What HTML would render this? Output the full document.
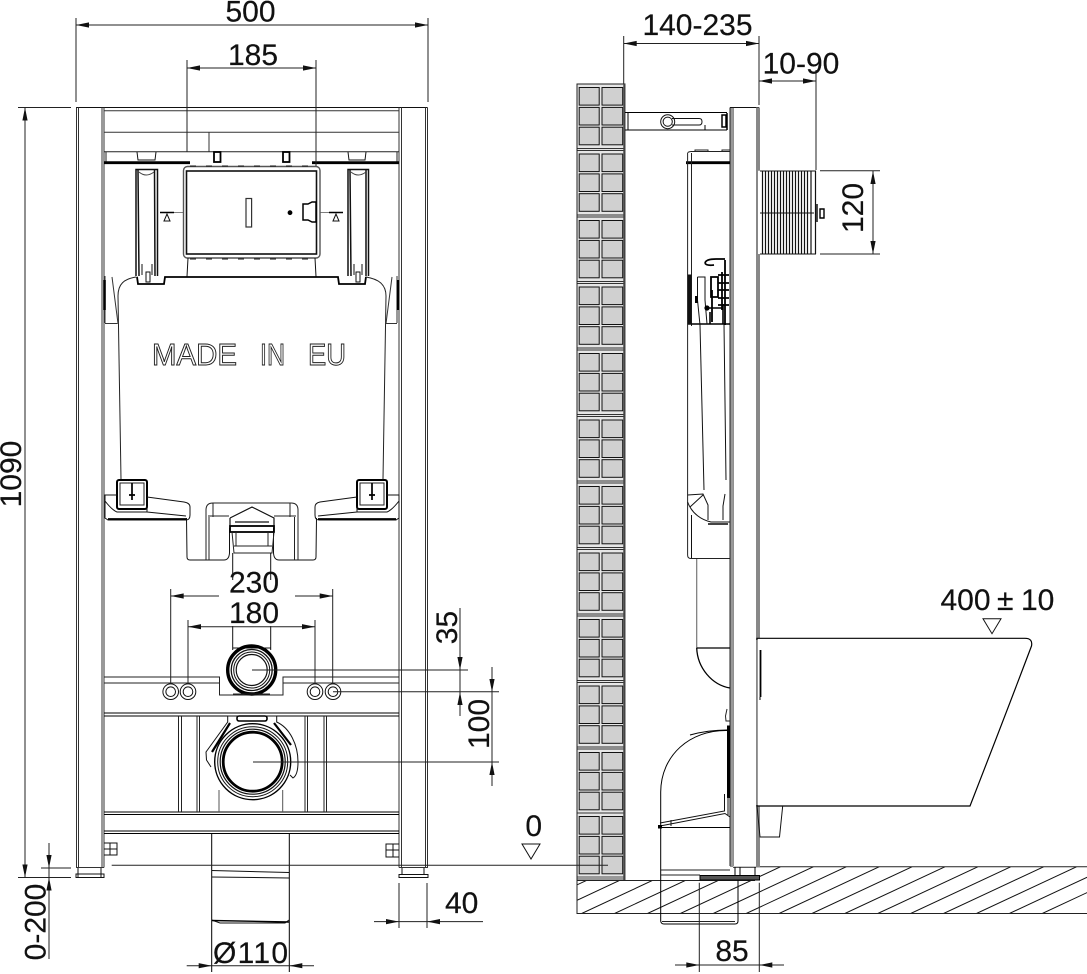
<!DOCTYPE html>
<html><head><meta charset="utf-8"><style>
html,body{margin:0;padding:0;background:#fff}
svg{display:block}
text{font-family:"Liberation Sans",sans-serif;font-size:30px;fill:#111;stroke:#111;stroke-width:.2}
</style></head><body>
<svg width="1087" height="974" viewBox="0 0 1087 974" xmlns="http://www.w3.org/2000/svg">
<defs>
<polygon id="a" points="0,0 -13,-2.6 -13,2.6" fill="#111"/>
<g id="m">
<rect x="577" y="0" width="48" height="66.5" fill="#e6e6e6"/>
<rect x="579.2" y="3.5" width="20" height="17.6" fill="#d0d0d0" stroke="#111"/>
<rect x="602" y="3.5" width="20.7" height="17.6" fill="#d0d0d0" stroke="#111"/>
<rect x="579.2" y="23.4" width="20" height="17.6" fill="#d0d0d0" stroke="#111"/>
<rect x="602" y="23.4" width="20.7" height="17.6" fill="#d0d0d0" stroke="#111"/>
<rect x="579.2" y="43.2" width="20" height="17.6" fill="#d0d0d0" stroke="#111"/>
<rect x="602" y="43.2" width="20.7" height="17.6" fill="#d0d0d0" stroke="#111"/>
<path d="M577,0H625M577,64.5H625" stroke="#333" fill="none"/>
</g>
<clipPath id="fl"><polygon points="577,880.5 760,880.5 760,866.7 1087,866.7 1087,913.5 577,913.5"/></clipPath>
</defs>
<rect width="1087" height="974" fill="#fff"/>

<!-- FRONT: frame -->
<g fill="none" stroke="#111" stroke-width="1">
<path d="M76,107.5H427.5"/>
<path d="M76.5,107.5V867.5M78.5,107.5V867.5M102,107.5V867.5M104,107.5V867.5M76,867.5H104" stroke="#333"/>
<path d="M399,107.5V867.5M401.5,107.5V867.5M425.5,107.5V867.5M427.5,107.5V867.5M399,867.5H428" stroke="#333"/>
<path d="M104,110.7H399M104,132.3H399M209,132.3V151.5" stroke="#333"/>
<path d="M104,151.7H399M106,151.7V162M397,151.7V162" stroke="#222"/>
<path d="M104,162.7H190M312,162.7H399" stroke="#000" stroke-width="2.8"/>
<path d="M137,152L138,160H155L156,152M348,152L349,160H365L366,152" stroke="#111"/>
<rect x="214" y="152" width="6.5" height="10" stroke="#000" stroke-width="1.8"/>
<rect x="283" y="152" width="6.5" height="10" stroke="#000" stroke-width="1.8"/>
<!-- window -->
<rect x="183.5" y="166.5" width="136.5" height="91.5" rx="4" stroke="#555" stroke-width="1.4"/>
<rect x="186.5" y="171" width="130" height="83" stroke="#111" stroke-width="1.6"/>
<rect x="246" y="198.5" width="5.6" height="28.5" stroke="#333" stroke-width="1.2"/>
<path d="M190,166H315M190,259H315" stroke="#111" stroke-dasharray="6 10"/>
<path d="M188,258L187,276.5M315,258L316,276.5"/>
<path d="M137,276.7L138,284H164L165,277H338L339,284H365L366,276.7" stroke="#000" stroke-width="1.8"/>
<path d="M303,204H308L312,202H316V222H312L308,220H303Z" stroke="#000" stroke-width="1.5"/>
<path d="M183,212.5H160M320,212.5H329" stroke="#555" stroke-width=".7"/>
<!-- columns -->
<path d="M136,276V169.5H157.5V276M139,276L138,170M155,276L154.5,170M348,276V169.5H368.5V276M351,276L350,170M366,276L366,170" stroke="#111" stroke-width="1.5"/>
<path d="M139,172Q146,178 154,172M351,172Q358,178 366,172" stroke="#444"/>
<path d="M142,264V275M152,264V275M146,272H150V282H146ZM354,264V275M362,264V275M356,272H360V282H356Z" stroke="#111"/>
<path d="M160,212.5H174M329,212.5H343" stroke="#000" stroke-width="1.5"/>
<path d="M167,214L164,221H170ZM336,214L333,221H339Z"/>
<!-- tank -->
<path d="M136,277C124,279 118,284 118,296L121,479M366,277C378,279 386,284 386,296L383,479" stroke="#222"/>
<path d="M105,323.5H117.5M112,277L118,323.5M386,323.5H397M392,277L386,323.5M105,276V323M397,276V323" stroke="#333"/>
<path d="M104.5,280V310M398,280V310" stroke="#000" stroke-width="2.6"/>
<!-- hooks -->
<rect x="117" y="480" width="30" height="29" rx="2" stroke="#000" stroke-width="2"/>
<rect x="120" y="483" width="24" height="22" stroke="#222"/>
<path d="M132,483V500M129,495H135" stroke="#000" stroke-width="1.7"/>
<rect x="357" y="480" width="30" height="29" rx="2" stroke="#000" stroke-width="2"/>
<rect x="360" y="483" width="24" height="22" stroke="#222"/>
<path d="M372,483V500M369,495H375" stroke="#000" stroke-width="1.7"/>
<!-- wings -->
<path d="M117,495L105,495V518L108,520H186Q190,520 190,515V507Q190,503 184,502L147,497M105,501Q112,510 117,512H147L186,516M147,506V512" stroke="#111"/>
<path d="M387,495L399,495V518L396,520H319Q315,520 315,515V507Q315,503 320,502L357,497M399,501Q392,510 387,512H357L318,516M357,506V512" stroke="#111"/>
<path d="M108,519H186M318,519H396" stroke="#000" stroke-width="1.8"/>
<!-- bottom piece -->
<path d="M186.5,518L187,557Q187,560 190,560H224Q229,560 229.5,553V528M316.5,518L316,557Q316,560 313,560H279Q274,560 273.5,553V528" stroke="#111"/>
<path d="M206,560L206,510Q206,503 213,503H291Q298,503 298,510V560M209,517V560M294.5,517V560M208,516H229M274,516H296M213,503V517M290,503V517" stroke="#222"/>
<path d="M230,518L252,507L274,518V530M230,518V530M235,522H269" stroke="#111" stroke-width="1.2"/>
<rect x="230" y="526" width="44" height="6" stroke="#000" stroke-width="1.8"/>
<path d="M232,532L234,553H272L274,532M234,546H272M236,532V546M268,532V546" stroke="#222"/>
<path d="M232.7,553V580M270.7,553V580" stroke="#111"/>
<!-- lower bar -->
<path d="M104,677H219.5V695H283V677H399M104,683H219.5M283,683H399" stroke="#222"/>
<path d="M104,713H399M104,716H399" stroke="#000"/>
<path d="M104,812H399M104,814.5H399M104,831H399M104,833.5H399" stroke="#000"/>
<path d="M178.5,716V812M181.5,716V812M197,716V812M199.5,716V812M305,716V812M307.5,716V812M324,716V812M326.5,716V812" stroke="#222"/>
<path d="M219,790V812M282.7,790V812" stroke="#555"/>
<!-- upper pipe -->
<path d="M232.7,626V650M270.7,626V650M232.7,648H270.7" stroke="#111"/>
<circle cx="251.7" cy="670" r="24" stroke="#000" stroke-width="3.4"/>
<circle cx="251.7" cy="670" r="20.5" stroke="#111" stroke-width="1.3"/>
<circle cx="251.7" cy="670" r="18"/>
<circle cx="251.7" cy="670" r="15.5" stroke="#111" stroke-width="1.2"/>
<path d="M233,694H270" stroke="#222"/>
<!-- rings -->
<circle cx="170.7" cy="691.7" r="7.8"/><circle cx="170.7" cy="691.7" r="4.8"/>
<circle cx="188" cy="691.7" r="7.8"/><circle cx="188" cy="691.7" r="4.8"/>
<circle cx="315" cy="691.7" r="7.8"/><circle cx="315" cy="691.7" r="4.8"/>
<circle cx="333" cy="691.7" r="7.8"/><circle cx="333" cy="691.7" r="4.8"/>
<!-- big pipe -->
<path d="M227.7,716V722L206,752L206.5,760L211,767M276.7,716V722C290,728 298,745 298,762Q298,775 293,778L290,775M276.7,716H227.7" stroke="#111" fill="#fff"/>
<circle cx="252.7" cy="761.7" r="38" fill="#fff" stroke="#000" stroke-width="1.4"/>
<circle cx="252.7" cy="761.7" r="35" stroke="#111"/>
<circle cx="252.7" cy="761.7" r="32.5" stroke="#111" stroke-width="1.2"/>
<circle cx="252.7" cy="761.7" r="29.5" stroke="#000" stroke-width="2.8"/>
<rect x="237" y="716" width="30" height="5" rx="2" stroke="#000" stroke-width="1.6"/>
<path d="M230,723L212,752M274,723L291,745" stroke="#000" stroke-width="2.2"/>
<!-- pipe below -->
<path d="M211.7,833V972M289.3,833V972" stroke="#000"/>
<path d="M211.7,870.5L289,872.5M211.7,877L289,878M211.7,920L220,923H285L289,920" stroke="#111"/>
<path d="M211.7,920.5L289,922" stroke="#000" stroke-width="1.4"/>
<!-- bolts/feet -->
<path d="M104,843H117V855H104M110,843V855M104,849H117M399,844H386V857H399M393,844V857M386,850H399" stroke="#111"/>
<path d="M78,868V877M101,868V877M76,874H104V877.5H76ZM402,868V875M424,868V875M399,874.5H428V877.5H399Z" stroke="#111"/>
</g>
<circle cx="290" cy="212.7" r="2.4" fill="#000"/>
<text x="152" y="365" style="font-size:31px;fill:#fff;stroke:#222;stroke-width:1" textLength="85" lengthAdjust="spacingAndGlyphs">MADE</text>
<text x="260" y="365" style="font-size:31px;fill:#fff;stroke:#222;stroke-width:1" textLength="25" lengthAdjust="spacingAndGlyphs">IN</text>
<text x="308" y="365" style="font-size:31px;fill:#fff;stroke:#222;stroke-width:1" textLength="38" lengthAdjust="spacingAndGlyphs">EU</text>

<!-- SIDE: wall -->
<rect x="577" y="84" width="48" height="796.5" fill="#e6e6e6" stroke="#222"/>
<use href="#m" transform="translate(0,84)"/><use href="#m" transform="translate(0,150.5)"/>
<use href="#m" transform="translate(0,217)"/><use href="#m" transform="translate(0,283.5)"/>
<use href="#m" transform="translate(0,350)"/><use href="#m" transform="translate(0,416.5)"/>
<use href="#m" transform="translate(0,483)"/><use href="#m" transform="translate(0,549.5)"/>
<use href="#m" transform="translate(0,616)"/><use href="#m" transform="translate(0,682.5)"/>
<use href="#m" transform="translate(0,749)"/><use href="#m" transform="translate(0,813)"/>
<rect x="577" y="876" width="48" height="4.5" fill="#999"/>
<rect x="577" y="84" width="48" height="796.5" fill="none" stroke="#222"/>
<rect x="623.3" y="84" width="2.2" height="796.5" fill="#444"/>

<!-- floor -->
<g clip-path="url(#fl)" stroke="#111" stroke-width="1" fill="none">
<path d="M482.7,913.5l100,-46.7M515.7,913.5l100,-46.7M548.7,913.5l100,-46.7M581.7,913.5l100,-46.7M614.6,913.5l100,-46.7M647.5,913.5l100,-46.7M680.4,913.5l100,-46.7M713.3,913.5l100,-46.7M746.2,913.5l100,-46.7M779.1,913.5l100,-46.7M812,913.5l100,-46.7M844.9,913.5l100,-46.7M877.8,913.5l100,-46.7M910.7,913.5l100,-46.7M943.6,913.5l100,-46.7M976.5,913.5l100,-46.7M1009.4,913.5l100,-46.7M1042.3,913.5l100,-46.7"/>
</g>
<path d="M577,880.5V913.5H1087M577,880.5H755M760,866.7H1087" fill="none" stroke="#222" stroke-width="1"/>

<!-- side: frame -->
<g fill="none" stroke="#111" stroke-width="1">
<path d="M730,107.5H759"/>
<rect x="756" y="107.5" width="4" height="760" fill="#888" stroke="none"/>
<path d="M730,107.5V866M733,107.5V866M730,866H733M733,867.3H756" stroke="#222"/>
<rect x="730.5" y="108" width="2.5" height="758" fill="#999" stroke="none"/>
<!-- bracket -->
<path d="M625,112.5H727M625,130H727M628,112.5V130M705,125V130" stroke="#000"/>
<circle cx="667.7" cy="121.7" r="7" stroke="#111"/><circle cx="667.7" cy="121.7" r="4.6" stroke="#111"/>
<path d="M672,118.5H699Q702,118.5 702,121.7Q702,125 699,125H672" stroke="#111"/>
<path d="M722,115V127H726V115ZM727,113V130" stroke="#000" stroke-width="1.5"/>
<!-- cistern -->
<path d="M691,151.5H730M695,151V150H708V151M722,151V150H730" stroke="#222"/>
<path d="M686,162.7H730" stroke="#000" stroke-width="2.8"/>
<path d="M688,153Q687.5,152 691,151.5M687.6,153V555Q687.6,558.5 691,558.5H730M691.5,153V326" stroke="#222"/>
<path d="M688,324H730" stroke="#000" stroke-width="1.4"/>
<path d="M688,275H691V324H688Z" fill="#111" stroke="#111"/>
<path d="M697.5,277V300L700,325L704,490M697.5,277H705V300L707,324M724,324L726,480" stroke="#111"/>
<path d="M705,263Q706,259 716,259H725M705,263Q706,266 714,265M712,290V322M725,260V325M722,272V310M718,275H729M718,283H729M718,290H729M718,298H729M718,305H729M711,277H718V297H711Z" stroke="#000" stroke-width="1.8"/>
<circle cx="707" cy="308" r="2.6" fill="#000" stroke="none"/>
<path d="M695,296H698V303H695Z" fill="#000" stroke="none"/>
<path d="M705,308H722M710,312V324M723,304V324" stroke="#000" stroke-width="1.6"/>
<!-- cistern lower curve -->
<path d="M687.6,495L703,494L708,505V520M687.6,502C692,514 702,520 711,522H730M690,507L703,495M725,494L723,506V520M691.5,515V558" stroke="#111"/>
<path d="M708,524H728" stroke="#444" stroke-width="2"/>
<!-- pipe upper -->
<path d="M696.7,559V648" stroke="#777" stroke-width="1.2"/>
<path d="M696.7,648H730M696.7,648C697.5,668 712,685 730,688" stroke="#000" stroke-width="1.3"/>
<path d="M727,709L725.5,716L726,721H730" stroke="#222"/>
<!-- bend -->
<path d="M727,730.5C690,730 661,755 660.7,792V826" stroke="#000"/>
<path d="M690,735Q708,730 727,730" stroke="#000"/>
<path d="M728.5,725.5V798" stroke="#000" stroke-width="3"/>
<path d="M724.5,794V811L660,823M660,826L725,813.5L730,817M671,820V826M728,797V815" stroke="#111"/>
<path d="M660,827.5H730" stroke="#000"/>
<rect x="658.5" y="825.5" width="3" height="2.5" fill="#000" stroke="#000"/>
<path d="M660.7,827V921Q661,924 664,924H735Q738,924 738,921V880" stroke="#000"/>
<path d="M661,870H730M661,875H700M662,921.5H735" stroke="#222"/>
<!-- base plate -->
<path d="M700,875.5H759.5V880H700Z" fill="#555" stroke="#000"/>
<path d="M735,867V875M740,867V875M755,867V875" stroke="#000"/>
<!-- toilet -->
<path d="M757,638.3H1025Q1033,638.3 1031.5,646Q1005,716 970,806H757Z" fill="#fff" stroke="#000" stroke-width="1.2"/>
<path d="M757,806L760,837H779.5L782.7,806" stroke="#111"/>
<path d="M757,638.3V806" stroke="#000"/>
<path d="M760.5,650V697" stroke="#000" stroke-width="1.8"/>
<path d="M760,697V700" stroke="#000"/>
<rect x="756" y="640" width="1.4" height="165" fill="#888" stroke="none"/>
</g>
<rect x="756" y="840" width="4" height="27" fill="#888"/>

<!-- DIMENSIONS -->
<g fill="none" stroke="#222" stroke-width="1">
<path d="M76,18V102M428,18V102M76,25H428"/>
<path d="M187,60V152M316,60V166M187,68H316"/>
<path d="M170.7,589V684M332.7,589V684M170.7,596H219M295,596H332.7"/>
<path d="M188,620V684M315,620V684M188,626.7H315"/>
<path d="M18,107.5H71M18,877.5H71M25,107.5V877.5M41,868H71M49,843V959"/>
<path d="M252,670H468M333,691.7H499M253,762H499"/>
<path d="M460,608V716M492,667V786"/>
<path d="M111.7,865.3H608"/>
<path d="M399,883V928M427,883V928M374,921.6H483"/>
<path d="M186.7,965.7H314"/>
<path d="M699.3,882.7V972M759.3,882.7V972M675,965H784"/>
<path d="M623.7,36V84M759,36V105M623.7,43.5H759M759,81H816M816,70V170"/>
<path d="M820,170.7H880M820,254H880M873,171V254"/>
<path d="M522,844H540L531,859ZM983,618.7H1001L992,633.7Z" stroke="#111"/>
</g>
<path d="M758,170.7H817V254H758Z" fill="#fff"/>
<!-- corrugation -->
<g fill="none" stroke="#111" stroke-width="1">
<path d="M760,171H816M760,254H816M760,213H814"/>
<path d="M762.5,171V254M765.5,171V254M768.5,171V254M771.5,171V254M774.5,171V254M777.5,171V254M780.5,171V254M783.5,171V254M786.5,171V254M789.5,171V254M792.5,171V254M795.5,171V254M798.5,171V254M801.5,171V254M804.5,171V254M807.5,171V254M811,171V254M815.5,171V254" stroke="#111" stroke-width="1.2"/>
<path d="M817,204V222M820,209H824V218H820Z" stroke="#000" stroke-width="1.4"/>
</g>
<g>
<use href="#a" transform="translate(76,25) rotate(180)"/><use href="#a" transform="translate(428,25)"/>
<use href="#a" transform="translate(187,68) rotate(180)"/><use href="#a" transform="translate(316,68)"/>
<use href="#a" transform="translate(170.7,596) rotate(180)"/><use href="#a" transform="translate(332.7,596)"/>
<use href="#a" transform="translate(188,626.7) rotate(180)"/><use href="#a" transform="translate(315,626.7)"/>
<use href="#a" transform="translate(25,107.5) rotate(-90)"/><use href="#a" transform="translate(25,877.5) rotate(90)"/>
<use href="#a" transform="translate(49,868) rotate(90)"/><use href="#a" transform="translate(49,877.5) rotate(-90)"/>
<use href="#a" transform="translate(460,670) rotate(90)"/><use href="#a" transform="translate(460,692) rotate(-90)"/>
<use href="#a" transform="translate(492,692) rotate(90)"/><use href="#a" transform="translate(492,762) rotate(-90)"/>
<use href="#a" transform="translate(399,921.6)"/><use href="#a" transform="translate(427,921.6) rotate(180)"/>
<use href="#a" transform="translate(211.7,965.7)"/><use href="#a" transform="translate(289.3,965.7) rotate(180)"/>
<use href="#a" transform="translate(699.3,965)"/><use href="#a" transform="translate(759.3,965) rotate(180)"/>
<use href="#a" transform="translate(623.7,43.5) rotate(180)"/><use href="#a" transform="translate(759,43.5)"/>
<use href="#a" transform="translate(759,81) rotate(180)"/><use href="#a" transform="translate(816,81)"/>
<use href="#a" transform="translate(873,171) rotate(-90)"/><use href="#a" transform="translate(873,254) rotate(90)"/>
</g>
<g text-anchor="middle">
<text x="250.5" y="21.5">500</text>
<text x="253" y="65">185</text>
<text x="254" y="592.5">230</text>
<text x="254" y="623">180</text>
<text x="250.5" y="963" textLength="75" lengthAdjust="spacing">Ø110</text>
<text x="461.7" y="913">40</text>
<text x="533.7" y="836">0</text>
<text x="732" y="961">85</text>
<text x="697.5" y="35">140-235</text>
<text x="801" y="73.3">10-90</text>
<text transform="translate(21,474) rotate(-90)">1090</text>
<text transform="translate(45.7,922) rotate(-90)">0-200</text>
<text transform="translate(457,627.5) rotate(-90)">35</text>
<text transform="translate(489,724) rotate(-90)">100</text>
<text transform="translate(863,208) rotate(-90)">120</text>
</g>
<text x="940.5" y="610">400</text>
<text x="997" y="610">±</text>
<text x="1021" y="610">10</text>
</svg>
</body></html>
